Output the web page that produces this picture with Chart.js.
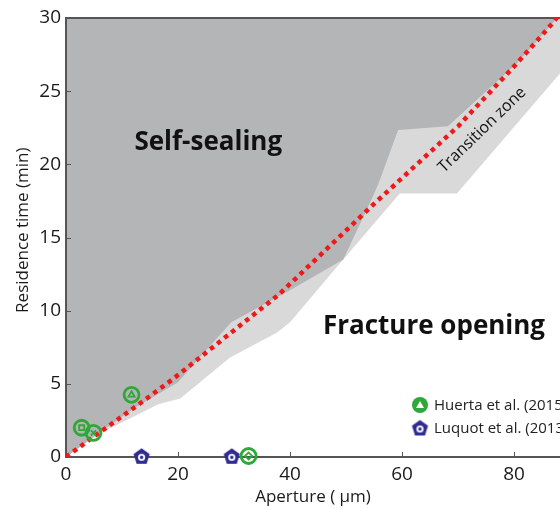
<!DOCTYPE html>
<html>
<head>
<meta charset="utf-8">
<script src="https://cdn.jsdelivr.net/npm/chart.js@4.4.0/dist/chart.umd.min.js"></script>
<style>
  html, body { margin: 0; padding: 0; background: #fff; }
</style>
</head>
<body>
<canvas id="chart" width="560" height="508"></canvas>
<script>
// values
const apertureTicks = [0, 20, 40, 60, 80];
const timeTicks = [0, 5, 10, 15, 20, 25, 30];

// red dotted boundary line
const boundaryX = [0, 5, 13, 19, 38, 55, 70, 80.5, 87, 88.2];
const boundaryY = [0, 1.4, 3.6, 5.3, 11.1, 17.3, 22.6, 26.9, 29.7, 30.3];

// lower edge of the dark "self-sealing" zone
const sealX = [0, 5, 12, 20, 25, 29.5, 40, 49.5, 54.8, 56, 59.3, 68.2, 80.5, 87, 88.2];
const sealY = [0, 1.4, 3.3, 5.1, 7.3, 9.2, 11.4, 13.5, 17.8, 18.9, 22.35, 22.6, 26.9, 29.7, 30.3];

// lower edge of the light transition zone
const transX = [0, 6, 16.5, 20.4, 29.3, 37.7, 40, 49.5, 59.6, 69.8, 88.2];
const transY = [0, 1.6, 3.6, 4.0, 6.8, 8.5, 9.2, 13.5, 18.0, 18.0, 26.2];

// experiments
const huertaX = [2.8, 4.9, 11.7, 32.6];
const huertaY = [2.0, 1.65, 4.25, 0.07];
const huertaInner = ['rect', 'crossRot', 'triangle', 'rectRot'];
const luquotX = [13.5, 29.6];
const luquotY = [0.05, 0.05];

const legendLabels = ['Huerta et al. (2015)', 'Luquot et al. (2013)'];
const yTitle = 'Residence time (min)';

const GREEN = '#2ea836';
const BLUE = '#2f2c8e';
const FONT = '"Open Sans", "DejaVu Sans", sans-serif';

function pts(xs, ys) {
  return xs.map((x, i) => ({ x: x, y: ys[i] }));
}

function pentagon(r) {
  const s = Math.ceil(2 * r + 4);
  const c = document.createElement('canvas');
  c.width = c.height = s;
  const g = c.getContext('2d');
  g.translate(s / 2, s / 2 + 0.5);
  g.beginPath();
  for (let i = 0; i < 5; i++) {
    const a = -Math.PI / 2 + i * 2 * Math.PI / 5;
    g.lineTo(r * Math.cos(a), r * Math.sin(a));
  }
  g.closePath();
  g.fillStyle = BLUE;
  g.fill();
  g.beginPath();
  g.arc(0, 0.5, r * 0.42, 0, Math.PI * 2);
  g.fillStyle = '#fff';
  g.fill();
  g.beginPath();
  g.arc(0, 0.5, r * 0.2, 0, Math.PI * 2);
  g.fillStyle = BLUE;
  g.fill();
  return c;
}
const pentaMark = pentagon(8.5);

// inward ticks, axis lines and top frame
const framePlugin = {
  id: 'frame',
  beforeDatasetsDraw(chart) {
    const { ctx, chartArea: a, scales: { x, y } } = chart;
    ctx.save();
    ctx.strokeStyle = '#555';
    ctx.lineWidth = 1;
    apertureTicks.slice(1).forEach(v => {
      const px = Math.round(x.getPixelForValue(v)) + 0.5;
      ctx.beginPath(); ctx.moveTo(px, a.bottom); ctx.lineTo(px, a.bottom - 5); ctx.stroke();
    });
    timeTicks.slice(1, -1).forEach(v => {
      const py = Math.round(y.getPixelForValue(v)) + 0.5;
      ctx.beginPath(); ctx.moveTo(a.left, py); ctx.lineTo(a.left + 5, py); ctx.stroke();
    });
    ctx.strokeStyle = '#555';
    ctx.lineWidth = 2;
    ctx.beginPath();
    ctx.moveTo(a.right + 2, a.top);
    ctx.lineTo(a.left, a.top);
    ctx.lineTo(a.left, a.bottom);
    ctx.lineTo(a.right + 2, a.bottom);
    ctx.stroke();
    ctx.restore();
  }
};

// region names, y title and the legend
const notesPlugin = {
  id: 'notes',
  afterDatasetsDraw(chart) {
    const { ctx, scales: { x, y } } = chart;
    ctx.save();
    ctx.fillStyle = '#111';
    ctx.textAlign = 'center';
    ctx.textBaseline = 'middle';
    ctx.font = 'bold 26px ' + FONT;
    ctx.fillText('Self-sealing', x.getPixelForValue(25.4), y.getPixelForValue(21.5));
    ctx.fillText('Fracture opening', x.getPixelForValue(65.7), y.getPixelForValue(8.9));

    ctx.save();
    ctx.translate(x.getPixelForValue(74.3), y.getPixelForValue(22.35));
    ctx.rotate(-44 * Math.PI / 180);
    ctx.font = '16px ' + FONT;
    ctx.fillText('Transition zone', 0, 0);
    ctx.restore();

    ctx.save();
    ctx.translate(23, y.getPixelForValue(15.5));
    ctx.rotate(-Math.PI / 2);
    ctx.font = '17px ' + FONT;
    ctx.fillStyle = '#1a1a1a';
    ctx.fillText(yTitle, 0, 0);
    ctx.restore();

    // legend
    const lx = 420, ly = [405, 428];
    ctx.textAlign = 'left';
    ctx.font = '15px ' + FONT;
    ctx.fillStyle = '#222';
    ctx.fillText(legendLabels[0], lx + 14, ly[0] + 1);
    ctx.fillText(legendLabels[1], lx + 14, ly[1] + 1);

    ctx.beginPath();
    ctx.arc(lx, ly[0], 8, 0, Math.PI * 2);
    ctx.fillStyle = GREEN;
    ctx.fill();
    ctx.beginPath();
    ctx.moveTo(lx, ly[0] - 4);
    ctx.lineTo(lx + 4, ly[0] + 3);
    ctx.lineTo(lx - 4, ly[0] + 3);
    ctx.closePath();
    ctx.fillStyle = '#fff';
    ctx.fill();
    ctx.drawImage(pentaMark, lx - pentaMark.width / 2, ly[1] - pentaMark.height / 2);
    ctx.restore();
  }
};

const tickFont = { family: FONT, size: 19 };
const titleFont = { family: FONT, size: 17 };

new Chart(document.getElementById('chart'), {
  type: 'line',
  data: {
    datasets: [
      {
        label: 'Huerta inner',
        data: pts(huertaX, huertaY),
        showLine: false,
        pointStyle: huertaInner,
        pointRadius: 3.5,
        borderColor: GREEN,
        backgroundColor: 'rgba(0,0,0,0)',
        borderWidth: 1.8,
        clip: false,
        order: 0
      },
      {
        label: legendLabels[0],
        data: pts(huertaX, huertaY),
        showLine: false,
        pointStyle: 'circle',
        pointRadius: 7.5,
        borderColor: GREEN,
        backgroundColor: 'rgba(0,0,0,0)',
        borderWidth: 2.8,
        clip: false,
        order: 1
      },
      {
        label: legendLabels[1],
        data: pts(luquotX, luquotY),
        showLine: false,
        pointStyle: pentaMark,
        clip: false,
        order: 1
      },
      {
        label: 'Boundary',
        data: pts(boundaryX, boundaryY),
        borderColor: '#f01818',
        borderWidth: 4.5,
        borderDash: [4.5, 4.5],
        borderCapStyle: 'butt',
        pointRadius: 0,
        fill: false,
        order: 3
      },
      {
        label: 'Self-sealing',
        data: pts(sealX, sealY),
        borderWidth: 0,
        pointRadius: 0,
        backgroundColor: '#b4b5b7',
        fill: 'end',
        order: 4
      },
      {
        label: 'Transition zone',
        data: pts(transX, transY),
        borderWidth: 0,
        pointRadius: 0,
        backgroundColor: '#d9d9da',
        fill: 'end',
        order: 5
      }
    ]
  },
  options: {
    responsive: false,
    animation: false,
    devicePixelRatio: 1,
    events: [],
    layout: { autoPadding: false, padding: { top: 18, right: 0, left: 0, bottom: 0 } },
    plugins: {
      legend: { display: false },
      tooltip: { enabled: false },
      filler: { drawTime: 'beforeDatasetsDraw' }
    },
    scales: {
      x: {
        type: 'linear',
        min: 0,
        max: 88.2,
        grid: { display: false, drawTicks: false },
        border: { display: false },
        ticks: {
          stepSize: 20,
          includeBounds: false,
          padding: 6,
          maxRotation: 0,
          color: '#1a1a1a',
          font: tickFont
        },
        title: {
          display: true,
          text: 'Aperture ( \u03bcm)',
          color: '#1a1a1a',
          font: titleFont,
          padding: { top: 0, bottom: 1 }
        },
        afterFit(s) {
          s.height = 51;
          s.paddingLeft = 0;
          s.paddingRight = 0;
        }
      },
      y: {
        min: 0,
        max: 30,
        grid: { display: false, drawTicks: false },
        border: { display: false },
        ticks: {
          stepSize: 5,
          padding: 5,
          color: '#1a1a1a',
          font: tickFont
        },
        title: { display: false },
        afterFit(s) {
          s.width = 66;
          s.paddingTop = 0;
          s.paddingBottom = 0;
        }
      }
    }
  },
  plugins: [framePlugin, notesPlugin]
});
</script>
</body>
</html>
